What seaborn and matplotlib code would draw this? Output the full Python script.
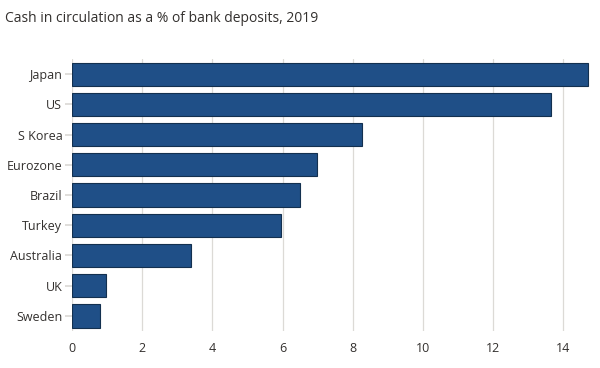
import matplotlib
matplotlib.use("Agg")
import matplotlib.pyplot as plt
import seaborn as sns
import pandas as pd

countries = ["Japan", "US", "S Korea", "Eurozone", "Brazil", "Turkey", "Australia", "UK", "Sweden"]
values = [14.7, 13.65, 8.27, 6.98, 6.5, 5.95, 3.4, 0.98, 0.8]
xticks = [0, 2, 4, 6, 8, 10, 12, 14]

df = pd.DataFrame({"country": countries, "value": values})

sns.set_theme(style="white")
plt.rcParams["font.family"] = ["Open Sans", "DejaVu Sans"]

fig = plt.figure(figsize=(6, 3.68), dpi=100)
fig.patch.set_facecolor("white")
ax = fig.add_axes([0.12, 0.1005, 0.863, 0.739])

sns.barplot(data=df, x="value", y="country", orient="h", color="#1f4f87",
            saturation=1, width=0.77, edgecolor="#13304f", linewidth=0.8, ax=ax)

ax.set_xlim(0, 14.75)
ax.set_ylim(8.5, -0.5)
ax.set_xticks(xticks)
ax.set_xticklabels([str(t) for t in xticks])
ax.set_xlabel("")
ax.set_ylabel("")
ax.grid(axis="x", color="#dcdad6", linewidth=0.9)
ax.set_axisbelow(True)
for s in ax.spines.values():
    s.set_visible(False)
ax.tick_params(axis="x", length=6, color="#dcdad6", labelsize=9, labelcolor="#33302e", pad=2)
ax.tick_params(axis="y", length=5, color="#dcdad6", labelsize=9, labelcolor="#33302e", pad=2, left=True)

fig.text(0.008, 0.95, "Cash in circulation as a % of bank deposits, 2019",
         fontsize=10, color="#33302e", ha="left", va="center")

fig.savefig("out.png", dpi=100, facecolor="white")
